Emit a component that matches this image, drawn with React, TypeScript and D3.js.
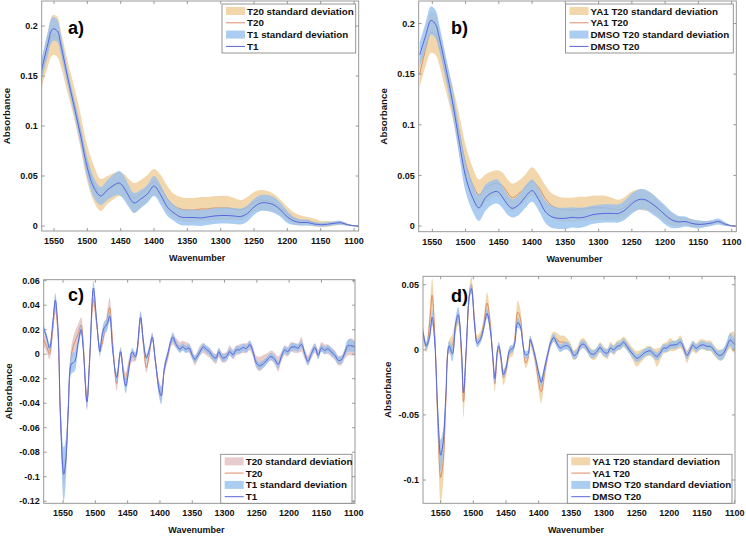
import React from "react";
import * as d3 from "d3";

// ---------- DATA ----------
const WN_AB = [1569, 1560, 1552, 1545, 1540, 1530, 1520, 1510, 1500, 1490,
  1480, 1470, 1460, 1452, 1445, 1438, 1430, 1420, 1410, 1400,
  1390, 1380, 1370, 1360, 1350, 1340, 1330, 1320, 1310, 1300,
  1290, 1280, 1270, 1260, 1250, 1240, 1230, 1220, 1210, 1200,
  1190, 1180, 1170, 1160, 1150, 1140, 1130, 1120, 1110, 1100, 1093];

const T20_A = [0.150, 0.175, 0.191, 0.189, 0.178, 0.150, 0.124, 0.094, 0.062, 0.042,
  0.031, 0.036, 0.040, 0.042, 0.040, 0.034, 0.028, 0.032, 0.038, 0.044,
  0.038, 0.027, 0.020, 0.017, 0.016, 0.016, 0.017, 0.017, 0.018, 0.018,
  0.018, 0.017, 0.016, 0.019, 0.024, 0.026, 0.025, 0.023, 0.018, 0.012,
  0.0075, 0.0055, 0.005, 0.0035, 0.002, 0.002, 0.0025, 0.003, 0.0015, 0.0002, 0];
const T20_A_SD = [0.013, 0.017, 0.020, 0.020, 0.018, 0.016, 0.016, 0.017, 0.018, 0.018,
  0.016, 0.014, 0.013, 0.012, 0.012, 0.013, 0.015, 0.014, 0.013, 0.013,
  0.013, 0.013, 0.012, 0.012, 0.012, 0.012, 0.012, 0.012, 0.012, 0.012,
  0.012, 0.011, 0.010, 0.010, 0.010, 0.010, 0.010, 0.009, 0.008, 0.007,
  0.006, 0.005, 0.004, 0.004, 0.003, 0.003, 0.002, 0.002, 0.001, 0.0005, 0];
const T1_A = [0.155, 0.180, 0.197, 0.195, 0.182, 0.150, 0.120, 0.090, 0.058, 0.038,
  0.030, 0.036, 0.041, 0.043, 0.038, 0.030, 0.023, 0.027, 0.032, 0.040,
  0.031, 0.019, 0.013, 0.009, 0.0085, 0.0085, 0.008, 0.009, 0.010, 0.0105,
  0.0105, 0.010, 0.0095, 0.0125, 0.019, 0.023, 0.023, 0.021, 0.016, 0.009,
  0.005, 0.0035, 0.0035, 0.002, 0.0013, 0.0017, 0.0027, 0.0033, 0.0013, 0.0002, 0];
const T1_A_SD = [0.010, 0.012, 0.012, 0.011, 0.010, 0.008, 0.008, 0.009, 0.010, 0.010,
  0.009, 0.010, 0.011, 0.012, 0.012, 0.011, 0.010, 0.009, 0.009, 0.010,
  0.010, 0.009, 0.008, 0.008, 0.008, 0.008, 0.008, 0.008, 0.008, 0.008,
  0.008, 0.008, 0.008, 0.008, 0.008, 0.008, 0.008, 0.008, 0.007, 0.006,
  0.004, 0.003, 0.003, 0.002, 0.002, 0.002, 0.002, 0.002, 0.001, 0.0005, 0];

const YA1_B = [0.150, 0.175, 0.191, 0.189, 0.178, 0.150, 0.124, 0.094, 0.062, 0.042,
  0.031, 0.037, 0.041, 0.042, 0.040, 0.034, 0.028, 0.032, 0.038, 0.044,
  0.038, 0.027, 0.020, 0.017, 0.016, 0.016, 0.017, 0.017, 0.018, 0.018,
  0.018, 0.017, 0.016, 0.019, 0.024, 0.026, 0.025, 0.023, 0.017, 0.011,
  0.0065, 0.0045, 0.0045, 0.003, 0.002, 0.002, 0.003, 0.004, 0.0015, 0.0002, 0];
const YA1_B_SD = [0.013, 0.017, 0.020, 0.020, 0.018, 0.016, 0.016, 0.017, 0.018, 0.017,
  0.015, 0.014, 0.013, 0.013, 0.013, 0.013, 0.014, 0.013, 0.013, 0.014,
  0.013, 0.013, 0.012, 0.012, 0.012, 0.012, 0.012, 0.012, 0.012, 0.012,
  0.012, 0.011, 0.010, 0.010, 0.010, 0.010, 0.010, 0.009, 0.008, 0.007,
  0.006, 0.005, 0.004, 0.004, 0.003, 0.003, 0.002, 0.002, 0.001, 0.0005, 0];
const DMSO_B = [0.169, 0.188, 0.203, 0.199, 0.187, 0.157, 0.124, 0.085, 0.049, 0.029,
  0.018, 0.028, 0.033, 0.034, 0.029, 0.022, 0.0175, 0.021, 0.029, 0.035,
  0.026, 0.014, 0.009, 0.0076, 0.0076, 0.0086, 0.008, 0.009, 0.011, 0.012,
  0.0125, 0.0125, 0.0125, 0.016, 0.022, 0.026, 0.026, 0.022, 0.017, 0.011,
  0.006, 0.004, 0.0045, 0.0026, 0.0016, 0.002, 0.003, 0.0045, 0.002, 0.0002, 0];
const DMSO_B_SD = [0.012, 0.013, 0.014, 0.014, 0.013, 0.012, 0.013, 0.014, 0.015, 0.014,
  0.013, 0.013, 0.012, 0.012, 0.011, 0.010, 0.009, 0.010, 0.011, 0.011,
  0.011, 0.011, 0.011, 0.0105, 0.0105, 0.010, 0.010, 0.0095, 0.009, 0.009,
  0.009, 0.009, 0.009, 0.0095, 0.010, 0.010, 0.010, 0.010, 0.0095, 0.0095,
  0.008, 0.006, 0.005, 0.004, 0.004, 0.003, 0.003, 0.003, 0.002, 0.0005, 0];

const WN_C = [1580, 1575, 1571, 1566, 1562, 1558, 1554, 1549, 1546, 1542,
  1537, 1532, 1527, 1522, 1519, 1513, 1509, 1503, 1498, 1493,
  1490, 1486, 1482, 1478, 1473, 1467, 1461, 1456, 1453, 1447,
  1443, 1438, 1430, 1426, 1421, 1416, 1412, 1407, 1401, 1398,
  1393, 1387, 1384, 1380, 1375, 1369, 1365, 1360, 1355, 1350,
  1346, 1338, 1333, 1328, 1323, 1318, 1313, 1309, 1303, 1297,
  1292, 1287, 1282, 1277, 1271, 1266, 1261, 1256, 1251, 1246,
  1238, 1233, 1228, 1222, 1217, 1212, 1207, 1202, 1197, 1191,
  1186, 1181, 1176, 1171, 1166, 1160, 1155, 1150, 1145, 1140,
  1135, 1129, 1124, 1119, 1114, 1109, 1104, 1098];
const T1_C = [0.021, 0.013, 0.005, 0.025, 0.044, 0.022, -0.052, -0.098, -0.088, -0.047,
  -0.008, -0.006, 0.008, 0.020, 0.006, -0.039, -0.006, 0.054, 0.027, 0.002,
  0.014, 0.022, 0.024, 0.031, 0.002, -0.019, 0.002, -0.019, -0.026, -0.008,
  0.002, -0.002, 0.030, 0.012, -0.003, 0.005, 0.014, -0.006, -0.030, -0.034,
  -0.011, 0.002, 0.009, 0.014, 0.008, 0.004, 0.006, 0.004, 0.005, -0.001,
  -0.004, 0.002, 0.006, 0.004, 0.002, -0.002, -0.003, 0.002, -0.003, -0.002,
  0.002, -0.0005, 0.0035, 0.0035, 0.0055, 0.0045, 0.008, 0.002, -0.007, -0.0095,
  -0.007, -0.004, -0.002, -0.0045, -0.0085, -0.002, 0.0035, 0.002, 0.0055, 0.006,
  0.005, 0.008, 0.001, -0.006, -0.0003, 0.0055, -0.001, 0.005, 0.003, 0.0045,
  0.002, -0.001, -0.005, -0.0045, 0.001, 0.007, 0.007, 0.006];
const T1_C_SD = [0.003, 0.003, 0.003, 0.004, 0.006, 0.004, 0.010, 0.022, 0.018, 0.008,
  0.008, 0.008, 0.005, 0.004, 0.004, 0.005, 0.004, 0.006, 0.004, 0.004,
  0.005, 0.005, 0.005, 0.004, 0.003, 0.004, 0.003, 0.004, 0.006, 0.004,
  0.003, 0.003, 0.005, 0.004, 0.003, 0.003, 0.003, 0.003, 0.006, 0.007,
  0.004, 0.003, 0.003, 0.004, 0.003, 0.003, 0.003, 0.003, 0.003, 0.003,
  0.003, 0.003, 0.003, 0.003, 0.003, 0.003, 0.003, 0.003, 0.003, 0.003,
  0.003, 0.003, 0.003, 0.003, 0.003, 0.003, 0.003, 0.003, 0.003, 0.003,
  0.003, 0.003, 0.003, 0.003, 0.003, 0.003, 0.003, 0.003, 0.003, 0.003,
  0.003, 0.003, 0.003, 0.003, 0.003, 0.003, 0.003, 0.003, 0.003, 0.003,
  0.003, 0.003, 0.003, 0.003, 0.003, 0.005, 0.005, 0.004];
const T20_C = [0.012, 0.006, 0.000, 0.020, 0.040, 0.018, -0.050, -0.097, -0.088, -0.043,
  0.000, 0.010, 0.016, 0.024, 0.010, -0.038, -0.006, 0.045, 0.025, 0.005,
  0.008, 0.018, 0.028, 0.038, 0.008, -0.024, 0.002, -0.016, -0.021, -0.006,
  -0.002, -0.002, 0.030, 0.010, -0.011, 0.002, 0.014, -0.006, -0.028, -0.032,
  -0.012, 0.000, 0.008, 0.012, 0.009, 0.006, 0.007, 0.006, 0.005, 0.000,
  -0.005, 0.003, 0.005, 0.003, 0.001, -0.002, -0.004, 0.001, -0.003, -0.002,
  0.003, 0.000, 0.003, 0.004, 0.005, 0.005, 0.007, 0.002, -0.006, -0.008,
  -0.005, -0.003, -0.001, -0.004, -0.008, -0.002, 0.003, 0.002, 0.006, 0.005,
  0.005, 0.008, 0.000, -0.005, 0.000, 0.005, 0.000, 0.006, 0.004, 0.004,
  0.002, -0.001, -0.005, -0.005, 0.000, 0.005, 0.006, 0.005];
const T20_C_SD = [0.005, 0.005, 0.004, 0.005, 0.007, 0.005, 0.008, 0.010, 0.010, 0.007,
  0.007, 0.008, 0.008, 0.006, 0.005, 0.008, 0.005, 0.006, 0.004, 0.004,
  0.004, 0.004, 0.006, 0.008, 0.004, 0.006, 0.004, 0.005, 0.006, 0.005,
  0.004, 0.004, 0.005, 0.004, 0.004, 0.004, 0.004, 0.004, 0.006, 0.006,
  0.004, 0.004, 0.004, 0.004, 0.004, 0.004, 0.004, 0.004, 0.004, 0.004,
  0.004, 0.004, 0.004, 0.004, 0.004, 0.004, 0.004, 0.004, 0.004, 0.004,
  0.004, 0.004, 0.004, 0.004, 0.004, 0.004, 0.004, 0.004, 0.005, 0.006,
  0.005, 0.004, 0.004, 0.005, 0.006, 0.004, 0.004, 0.004, 0.004, 0.004,
  0.004, 0.006, 0.004, 0.004, 0.004, 0.004, 0.004, 0.004, 0.004, 0.004,
  0.004, 0.004, 0.004, 0.004, 0.004, 0.006, 0.007, 0.006];

const WN_D = [1577, 1572, 1567, 1563, 1559, 1554, 1550, 1546, 1542, 1537,
  1532, 1527, 1523, 1518, 1515, 1511, 1506, 1503, 1498, 1494,
  1489, 1484, 1479, 1474, 1470, 1467, 1463, 1461, 1457, 1454,
  1450, 1444, 1440, 1437, 1432, 1428, 1424, 1420, 1416, 1413,
  1410, 1405, 1398, 1396, 1391, 1386, 1381, 1377, 1372, 1367,
  1362, 1357, 1352, 1346, 1341, 1336, 1331, 1326, 1321, 1316,
  1311, 1306, 1301, 1295, 1290, 1285, 1280, 1275, 1270, 1265,
  1260, 1255, 1250, 1244, 1239, 1234, 1229, 1224, 1219, 1214,
  1209, 1204, 1199, 1193, 1188, 1183, 1178, 1173, 1168, 1164,
  1159, 1153, 1148, 1142, 1137, 1132, 1127, 1122, 1117, 1112,
  1107, 1102, 1099];
const DMSO_D = [0.014, 0.003, 0.010, 0.025, 0.006, -0.052, -0.081, -0.070, -0.035, 0.003,
  -0.003, 0.020, 0.027, -0.001, -0.033, -0.001, 0.042, 0.047, 0.019, 0.005,
  0.008, 0.017, 0.028, 0.015, -0.006, -0.022, 0.000, 0.003, -0.008, -0.019,
  -0.014, 0.000, 0.001, 0.004, 0.021, 0.018, 0.004, -0.004, -0.003, 0.008,
  0.004, -0.006, -0.022, -0.025, -0.014, -0.003, 0.006, 0.0095, 0.005, 0.0013,
  0.0026, 0.0033, 0.0013, -0.0043, -0.0026, 0.0033, 0.0043, 0.0013, -0.0026, -0.0033,
  -0.0013, 0.0018, -0.0013, -0.0026, 0.0013, 0.000, 0.0026, 0.0033, 0.0059, 0.0026,
  -0.0008, -0.0038, -0.0064, -0.005, -0.0026, -0.0013, -0.0008, -0.0033, -0.005, -0.0026,
  0.0013, 0.0013, 0.0033, 0.0038, 0.0043, 0.0059, 0.0013, -0.0043, 0.000, 0.0038,
  0.0013, 0.0033, 0.0038, 0.0026, 0.0026, 0.000, -0.0033, -0.0043, -0.0026, 0.0026,
  0.0077, 0.005, 0.004];
const DMSO_D_SD = [0.003, 0.003, 0.004, 0.006, 0.004, 0.008, 0.012, 0.010, 0.006, 0.004,
  0.006, 0.005, 0.006, 0.004, 0.004, 0.004, 0.004, 0.004, 0.004, 0.003,
  0.003, 0.003, 0.004, 0.003, 0.003, 0.004, 0.003, 0.003, 0.003, 0.003,
  0.003, 0.003, 0.003, 0.003, 0.004, 0.003, 0.003, 0.003, 0.003, 0.003,
  0.003, 0.003, 0.004, 0.004, 0.003, 0.003, 0.003, 0.003, 0.003, 0.003,
  0.003, 0.003, 0.003, 0.003, 0.003, 0.003, 0.003, 0.003, 0.003, 0.003,
  0.003, 0.003, 0.003, 0.003, 0.003, 0.003, 0.003, 0.003, 0.003, 0.003,
  0.003, 0.003, 0.003, 0.003, 0.003, 0.003, 0.003, 0.003, 0.003, 0.003,
  0.003, 0.003, 0.003, 0.003, 0.003, 0.003, 0.003, 0.003, 0.003, 0.003,
  0.003, 0.003, 0.003, 0.003, 0.003, 0.003, 0.003, 0.004, 0.004, 0.004,
  0.005, 0.005, 0.004];
const YA1_D = [0.014, 0.002, 0.020, 0.042, 0.012, -0.060, -0.098, -0.085, -0.040, 0.002,
  0.004, 0.018, 0.025, -0.005, -0.040, -0.003, 0.042, 0.050, 0.022, 0.007,
  0.010, 0.020, 0.036, 0.020, -0.008, -0.026, -0.002, 0.002, -0.010, -0.021,
  -0.016, -0.002, -0.001, 0.006, 0.029, 0.024, 0.005, -0.010, -0.006, 0.007,
  0.003, -0.008, -0.030, -0.032, -0.018, -0.004, 0.007, 0.010, 0.008, 0.006,
  0.006, 0.005, 0.002, -0.004, -0.002, 0.004, 0.005, 0.002, -0.002, -0.004,
  -0.002, 0.002, -0.001, -0.003, 0.002, 0.000, 0.003, 0.004, 0.006, 0.004,
  0.000, -0.004, -0.007, -0.005, -0.003, -0.001, -0.001, -0.003, -0.006, -0.003,
  0.001, 0.002, 0.004, 0.003, 0.004, 0.006, 0.001, -0.005, 0.000, 0.003,
  0.001, 0.004, 0.004, 0.003, 0.003, 0.000, -0.003, -0.004, -0.003, 0.002,
  0.007, 0.006, 0.005];
const YA1_D_SD = [0.004, 0.004, 0.010, 0.013, 0.008, 0.012, 0.020, 0.016, 0.008, 0.005,
  0.008, 0.006, 0.006, 0.010, 0.012, 0.006, 0.006, 0.006, 0.005, 0.004,
  0.004, 0.005, 0.008, 0.006, 0.005, 0.006, 0.004, 0.004, 0.005, 0.006,
  0.005, 0.004, 0.004, 0.004, 0.009, 0.007, 0.004, 0.004, 0.004, 0.004,
  0.004, 0.005, 0.008, 0.009, 0.006, 0.004, 0.004, 0.004, 0.005, 0.005,
  0.005, 0.004, 0.004, 0.004, 0.004, 0.004, 0.004, 0.004, 0.004, 0.004,
  0.004, 0.004, 0.004, 0.004, 0.004, 0.004, 0.004, 0.004, 0.004, 0.004,
  0.004, 0.005, 0.006, 0.005, 0.004, 0.004, 0.004, 0.004, 0.007, 0.005,
  0.004, 0.004, 0.005, 0.004, 0.004, 0.005, 0.004, 0.005, 0.004, 0.004,
  0.004, 0.004, 0.004, 0.004, 0.004, 0.004, 0.004, 0.004, 0.004, 0.004,
  0.006, 0.008, 0.006];

const X_TICKS = [1550, 1500, 1450, 1400, 1350, 1300, 1250, 1200, 1150, 1100];
const Y_TICKS_AB = [0, 0.05, 0.1, 0.15, 0.2];
const Y_TICKS_C = [-0.12, -0.1, -0.08, -0.06, -0.04, -0.02, 0, 0.02, 0.04, 0.06];
const Y_TICKS_D = [-0.1, -0.05, 0, 0.05];

const LEGEND_AC = ["T20 standard deviation", "T20", "T1 standard deviation", "T1"];
const LEGEND_BD = ["YA1 T20 standard deviation", "YA1 T20", "DMSO T20 standard deviation", "DMSO T20"];

const X_LABEL = "Wavenumber";
const Y_LABEL = "Absorbance";

// ---------- STYLE ----------
const FONT = "Arial, 'Liberation Sans', Helvetica, sans-serif";
const ORANGE_FILL = "#e8b66a";
const PINK_FILL = "#cc8e8e";
const BLUE_FILL = "#97c1ef";
const ORANGE_LINE = "#dc8c64";
const BLUE_LINE = "#5866dc";
const AXIS = "#8f8f8f";

type Series = { wn: number[]; mean: number[]; sd: number[]; fill: string; fillOpacity: number; stroke: string };
type Box = { l: number; r: number; t: number; b: number };

function fmt(v: number) {
  return String(+v.toFixed(2));
}

function Panel(props: {
  id: string; box: Box; xDom: [number, number]; yDom: [number, number]; yTicks: number[];
  series: Series[]; legend: string[]; legendBox: { l: number; t: number }; letter: string; letterPos: [number, number];
}) {
  const { id, box, xDom, yDom, yTicks, series, legend, legendBox, letter, letterPos } = props;
  const x = d3.scaleLinear().domain(xDom).range([box.l, box.r]);
  const y = d3.scaleLinear().domain(yDom).range([box.b, box.t]);
  const tl = 3;

  const elems: React.ReactNode[] = [];
  series.forEach((s, k) => {
    const pts = s.wn.map((w, i) => ({ w, m: s.mean[i], sd: s.sd[i] }));
    const area = d3.area<{ w: number; m: number; sd: number }>()
      .x(d => x(d.w)).y0(d => y(d.m - d.sd)).y1(d => y(d.m + d.sd)).curve(d3.curveCatmullRom);
    const line = d3.line<{ w: number; m: number; sd: number }>()
      .x(d => x(d.w)).y(d => y(d.m)).curve(d3.curveCatmullRom);
    elems.push(<path key={"a" + k} d={area(pts) || ""} fill={s.fill} fillOpacity={s.fillOpacity} stroke="none" />);
    elems.push(<path key={"l" + k} d={line(pts) || ""} fill="none" stroke={s.stroke} strokeWidth={1} />);
  });

  const legW = box.r - 3 - legendBox.l;
  const legH = 49;
  const rowY = (i: number) => legendBox.t + 7 + i * 11.8;

  return (
    <g>
      <defs>
        <clipPath id={"clip" + id}>
          <rect x={box.l} y={box.t} width={box.r - box.l} height={box.b - box.t} />
        </clipPath>
      </defs>
      <rect x={box.l} y={box.t} width={box.r - box.l} height={box.b - box.t} fill="#fff" />
      <g clipPath={`url(#clip${id})`}>{elems}</g>
      <rect x={box.l} y={box.t} width={box.r - box.l} height={box.b - box.t} fill="none" stroke={AXIS} strokeWidth={0.9} />
      {X_TICKS.map(t => (
        <g key={"xt" + t}>
          <line x1={x(t)} x2={x(t)} y1={box.b} y2={box.b - tl} stroke={AXIS} strokeWidth={0.9} />
          <line x1={x(t)} x2={x(t)} y1={box.t} y2={box.t + tl} stroke={AXIS} strokeWidth={0.9} />
          <text x={x(t)} y={box.b + 13} textAnchor="middle" fontSize={9} fontWeight="bold" fontFamily={FONT} fill="#111">{t}</text>
        </g>
      ))}
      {yTicks.map(t => (
        <g key={"yt" + t}>
          <line x1={box.l} x2={box.l + tl} y1={y(t)} y2={y(t)} stroke={AXIS} strokeWidth={0.9} />
          <line x1={box.r} x2={box.r - tl} y1={y(t)} y2={y(t)} stroke={AXIS} strokeWidth={0.9} />
          <text x={box.l - 4} y={y(t) + 3.2} textAnchor="end" fontSize={9} fontWeight="bold" fontFamily={FONT} fill="#111">{fmt(t)}</text>
        </g>
      ))}
      <text x={(box.l + box.r) / 2 - 3} y={box.b + 30} textAnchor="middle" fontSize={9} fontWeight="bold" fontFamily={FONT} fill="#111">{X_LABEL}</text>
      <text transform={`translate(${box.l - 35},${(box.t + box.b) / 2}) rotate(-90)`} textAnchor="middle" dy="0.35em" fontSize={9.8} fontWeight="bold" fontFamily={FONT} fill="#111">{Y_LABEL}</text>
      <text x={letterPos[0]} y={letterPos[1]} fontSize={18} fontWeight="bold" fontFamily={FONT} fill="#000">{letter}</text>
      <g>
        <rect x={legendBox.l} y={legendBox.t} width={legW} height={legH} fill="#fff" stroke="#8a8a8a" strokeWidth={0.9} />
        {legend.map((lab, i) => {
          const s = series[Math.floor(i / 2)];
          const cy = rowY(i);
          const sx = legendBox.l + 4;
          return (
            <g key={"lg" + i}>
              {i % 2 === 0 ? (
                <rect x={sx} y={cy - 4} width={19} height={8} fill={s.fill} fillOpacity={s.fillOpacity} />
              ) : (
                <line x1={sx} x2={sx + 19} y1={cy} y2={cy} stroke={s.stroke} strokeWidth={1} />
              )}
              <text x={sx + 21} y={cy + 3.5} fontSize={9.8} fontWeight="bold" fontFamily={FONT} fill="#111">{lab}</text>
            </g>
          );
        })}
      </g>
    </g>
  );
}

export default function App() {
  const boxA: Box = { l: 41.7, r: 358.7, t: 1, b: 231 };
  const boxB: Box = { l: 418.7, r: 736.3, t: 1, b: 231.7 };
  const boxC: Box = { l: 43.7, r: 355, t: 279.7, b: 503.3 };
  const boxD: Box = { l: 423, r: 735, t: 276.3, b: 503.3 };

  const sA: Series[] = [
    { wn: WN_AB, mean: T20_A, sd: T20_A_SD, fill: ORANGE_FILL, fillOpacity: 0.55, stroke: ORANGE_LINE },
    { wn: WN_AB, mean: T1_A, sd: T1_A_SD, fill: BLUE_FILL, fillOpacity: 0.8, stroke: BLUE_LINE },
  ];
  const sB: Series[] = [
    { wn: WN_AB, mean: YA1_B, sd: YA1_B_SD, fill: ORANGE_FILL, fillOpacity: 0.55, stroke: ORANGE_LINE },
    { wn: WN_AB, mean: DMSO_B, sd: DMSO_B_SD, fill: BLUE_FILL, fillOpacity: 0.8, stroke: BLUE_LINE },
  ];
  const sC: Series[] = [
    { wn: WN_C, mean: T20_C, sd: T20_C_SD, fill: PINK_FILL, fillOpacity: 0.45, stroke: ORANGE_LINE },
    { wn: WN_C, mean: T1_C, sd: T1_C_SD, fill: BLUE_FILL, fillOpacity: 0.8, stroke: BLUE_LINE },
  ];
  const sD: Series[] = [
    { wn: WN_D, mean: YA1_D, sd: YA1_D_SD, fill: ORANGE_FILL, fillOpacity: 0.55, stroke: ORANGE_LINE },
    { wn: WN_D, mean: DMSO_D, sd: DMSO_D_SD, fill: BLUE_FILL, fillOpacity: 0.8, stroke: BLUE_LINE },
  ];

  return (
    <svg width={746} height={536} style={{ position: "absolute", left: 0, top: 0, background: "#fff" }}>
      <rect x={0} y={0} width={746} height={536} fill="#fff" />
      <Panel id="a" box={boxA} xDom={[1568.5, 1093]} yDom={[-0.005, 0.225]} yTicks={Y_TICKS_AB} series={sA}
        legend={LEGEND_AC} legendBox={{ l: 222, t: 4 }} letter="a)" letterPos={[68, 34]} />
      <Panel id="b" box={boxB} xDom={[1570.5, 1093]} yDom={[-0.0056, 0.2222]} yTicks={Y_TICKS_AB} series={sB}
        legend={LEGEND_BD} legendBox={{ l: 565.5, t: 4 }} letter="b)" letterPos={[451, 34]} />
      <Panel id="c" box={boxC} xDom={[1580, 1098]} yDom={[-0.1217, 0.0608]} yTicks={Y_TICKS_C} series={sC}
        legend={LEGEND_AC} legendBox={{ l: 220.7, t: 454.3 }} letter="c)" letterPos={[68, 301]} />
      <Panel id="d" box={boxD} xDom={[1577, 1099.5]} yDom={[-0.1179, 0.0565]} yTicks={Y_TICKS_D} series={sD}
        legend={LEGEND_BD} legendBox={{ l: 567.3, t: 454.3 }} letter="d)" letterPos={[451, 302]} />
    </svg>
  );
}
